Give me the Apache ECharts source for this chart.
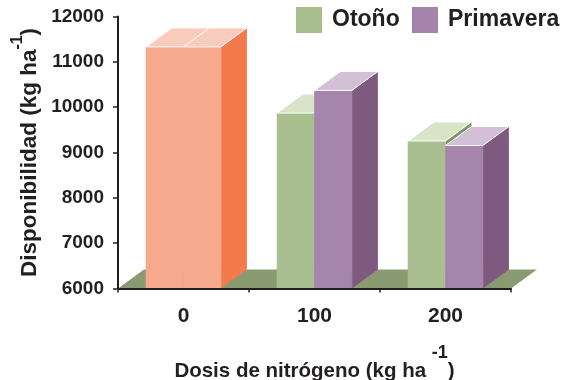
<!DOCTYPE html>
<html>
<head>
<meta charset="utf-8">
<title>Disponibilidad</title>
<script src="https://cdn.jsdelivr.net/npm/echarts@6/dist/echarts.min.js"></script>
<style>
  html, body { margin: 0; padding: 0; background: #fff; }
  #chart { width: 564px; height: 380px; }
</style>
</head>
<body>
<div id="chart"></div>
<script>
// Dosis de nitrógeno (kg ha-1) on the category axis
const categories = ['0', '100', '200'];
// Disponibilidad (kg ha-1) for each season
const otono = [11330, 9870, 9255];
const primavera = [11330, 10370, 9155];
// value axis range and step
const yMin = 6000;
const yMax = 12000;
const yStep = 1000;

const ink = '#231f20';
const font = 'Liberation Sans, Arial, Helvetica, sans-serif';

// face colours of the prisms: front, side, top
const shades = {
  orange: { front: '#F7A98D', side: '#F37A4D', top: '#F8CBBD' },
  green:  { front: '#AABF8F', side: '#7F9466', top: '#D9E3C8' },
  purple: { front: '#A585AB', side: '#7E5A80', top: '#D3BFD6' }
};
const floorColor = '#8A9B72';

// the unfertilised treatment is drawn in orange for both seasons
function shadeFor(seriesShade, idx) {
  return idx === 0 ? shades.orange : seriesShade;
}

// depth of the 3D effect, relative to the category band
const depthX = 0.198;
const depthY = 0.145;
const barRatio = 0.286;

function prism(side, seriesShade) {
  return function (params, api) {
    const idx = api.value(0);
    const base = api.coord([idx, yMin]);
    const top = api.coord([idx, api.value(1)]);
    const band = api.size([1, 0])[0];
    const w = band * barRatio;
    const dx = band * depthX;
    const dy = -band * depthY;
    const x0 = side < 0 ? base[0] - w : base[0];
    const x1 = x0 + w;
    const ty = top[1];
    const by = base[1];
    const c = shadeFor(seriesShade, idx);
    return {
      type: 'group',
      children: [
        {
          type: 'polygon',
          shape: { points: [[x1, ty], [x1 + dx, ty + dy], [x1 + dx, by + dy], [x1, by]] },
          style: { fill: c.side }
        },
        {
          type: 'rect',
          shape: { x: x0, y: ty, width: w, height: by - ty },
          style: { fill: c.front, stroke: c.front, lineWidth: 0.6 }
        },
        {
          type: 'polygon',
          shape: { points: [[x0, ty], [x1, ty], [x1 + dx, ty + dy], [x0 + dx, ty + dy]] },
          style: { fill: c.top, stroke: '#ffffff', lineWidth: 1 }
        }
      ]
    };
  };
}

function floor(params, api) {
  const cs = params.coordSys;
  const band = api.size([1, 0])[0];
  const dx = band * depthX;
  const dy = -band * depthY;
  const y = cs.y + cs.height;
  const xl = cs.x;
  const xr = cs.x + cs.width;
  return {
    type: 'polygon',
    shape: { points: [[xl, y], [xr, y], [xr + dx, y + dy], [xl + dx, y + dy]] },
    style: { fill: floorColor }
  };
}

// axis titles with a raised "-1" exponent
const titleRich = function (size, supSize, raise) {
  return {
    m: { fontSize: size, fontWeight: 'bold', fontFamily: font, color: ink, verticalAlign: 'bottom', lineHeight: size + 2 },
    s: { fontSize: supSize, fontWeight: 'bold', fontFamily: font, color: ink, verticalAlign: 'top', padding: [0, 0, raise, 0] }
  };
};

const legendText = { fontSize: 23, fontWeight: 'bold', fontFamily: font, color: ink, padding: [0, 0, 0, 5] };
function legendAt(name, left) {
  return {
    data: [name],
    left: left,
    top: 7,
    padding: 0,
    icon: 'rect',
    itemWidth: 26,
    itemHeight: 26,
    selectedMode: false,
    textStyle: legendText
  };
}

const chart = echarts.init(document.getElementById('chart'), null, { renderer: 'canvas' });
chart.setOption({
  animation: false,
  backgroundColor: '#ffffff',
  grid: { left: 118, top: 16.5, width: 393, height: 272, containLabel: false, outerBoundsMode: 'none' },
  legend: [legendAt('Otoño', 296), legendAt('Primavera', 412)],
  xAxis: {
    type: 'category',
    data: categories,
    z: 10,
    axisLine: { show: true, lineStyle: { color: ink, width: 2 } },
    axisTick: { show: true, length: 4, lineStyle: { color: ink, width: 1.5 } },
    axisLabel: { interval: 0, margin: 17, fontSize: 21, fontWeight: 'bold', fontFamily: font, color: ink },
    name: '{m|Dosis de nitrógeno (kg ha }{s|-1}{m|)}',
    nameLocation: 'middle',
    nameMoveOverlap: false,
    nameGap: 56,
    nameTextStyle: { rich: titleRich(20.5, 18, 19) }
  },
  yAxis: {
    type: 'value',
    min: yMin,
    max: yMax,
    interval: yStep,
    z: 10,
    axisLine: { show: true, lineStyle: { color: ink, width: 2 } },
    axisTick: { show: true, length: 5, lineStyle: { color: ink, width: 1.5 } },
    splitLine: { show: false },
    axisLabel: {
      margin: 14, fontSize: 19, fontWeight: 'bold', fontFamily: font, color: ink,
      formatter: function (v) { return String(v); }
    },
    name: '{m|Disponibilidad (kg ha}{s|-1}{m|)}',
    nameLocation: 'middle',
    nameRotate: 90,
    nameMoveOverlap: false,
    nameGap: 77,
    nameTextStyle: { rich: titleRich(22.5, 16, 15) }
  },
  series: [
    {
      type: 'custom',
      name: 'suelo',
      silent: true,
      renderItem: floor,
      data: [[0, yMin]]
    },
    {
      type: 'custom',
      name: 'Otoño',
      renderItem: prism(-1, shades.green),
      itemStyle: { color: '#A9BF8F' },
      data: otono.map(function (v, i) { return [i, v]; })
    },
    {
      type: 'custom',
      name: 'Primavera',
      renderItem: prism(1, shades.purple),
      itemStyle: { color: '#A484AB' },
      data: primavera.map(function (v, i) { return [i, v]; })
    }
  ]
});
</script>
</body>
</html>
